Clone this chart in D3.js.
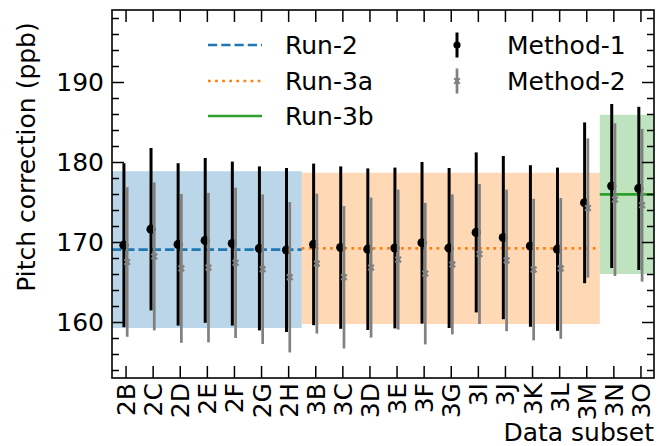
<!DOCTYPE html>
<html lang="en">
<head>
<meta charset="UTF-8">
<title>Pitch correction</title>
<style>
  body { margin: 0; background: #fff; }
  svg text { font-family: "DejaVu Sans", sans-serif; }
</style>
</head>
<body>
<svg width="660" height="446"></svg>
<script src="https://d3js.org/d3.v7.min.js"></script>
<script>
// data subsets
var subsets = ["2B","2C","2D","2E","2F","2G","2H","3B","3C","3D","3E","3F","3G","3I","3J","3K","3L","3M","3N","3O"];

// Method-1 (black) values and errors
var m1Values = [169.6,171.6,169.7,170.2,169.8,169.2,169.0,169.7,169.3,169.1,169.25,169.9,169.25,171.2,170.55,169.5,169.1,174.9,177.0,176.7];
var m1Errors = [10.25,10.15,10.15,10.3,10.25,10.25,10.25,10.1,10.15,10.1,10.05,10.1,10.0,10.0,10.2,10.1,10.2,10.05,10.25,10.2];

// Method-2 (grey) values and errors
var m2Values = [167.5,168.2,166.7,166.8,167.4,166.6,165.6,167.3,165.6,166.8,167.8,166.05,167.2,168.5,167.7,166.55,166.7,174.25,175.3,174.6];
var m2Errors = [9.35,9.25,9.3,9.35,9.4,9.35,9.4,8.75,8.9,8.75,8.75,8.85,8.75,8.75,8.85,8.85,8.8,8.7,9.55,9.55];

// run averages: name, x range (subset index), mean, band half width
var runNames = ["Run-2","Run-3a","Run-3b"];
var runStart = [-0.5, 6.5, 17.5];
var runEnd   = [6.5, 17.5, 19.5];
var runMeans = [169.05, 169.2, 175.95];
var runBands = [9.8, 9.45, 9.95];

var runColors = ["#1f77b4","#ff7f0e","#2ca02c"];
var runDash = ["9.25,4", "2.7,4.4", null];

var yMajor = [160,170,180,190];
var yMinor = d3.range(154, 199, 2).filter(function(v){ return v % 10 !== 0; });

var svg = d3.select("svg");
var pLeft = 112, pRight = 654, pTop = 10, pBottom = 378;

var x = d3.scaleLinear().domain([-0.5, 19.5]).range([pLeft, pRight]);
var y = d3.scaleLinear().domain([153, 199]).range([pBottom, pTop]);

svg.append("clipPath").attr("id","plotclip")
  .append("rect").attr("x",pLeft).attr("y",pTop).attr("width",pRight-pLeft).attr("height",pBottom-pTop);

var plot = svg.append("g").attr("clip-path","url(#plotclip)");

// bands
plot.selectAll("rect.band")
  .data(d3.range(runNames.length))
  .enter().append("rect")
  .attr("class","band")
  .attr("x", function(i){ return x(runStart[i]); })
  .attr("width", function(i){ return x(runEnd[i]) - x(runStart[i]); })
  .attr("y", function(i){ return y(runMeans[i] + runBands[i]); })
  .attr("height", function(i){ return y(runMeans[i] - runBands[i]) - y(runMeans[i] + runBands[i]); })
  .attr("fill", function(i){ return runColors[i]; })
  .attr("fill-opacity", 0.3);

// mean lines
plot.selectAll("line.mean")
  .data(d3.range(runNames.length))
  .enter().append("line")
  .attr("x1", function(i){ return x(runStart[i]); })
  .attr("x2", function(i){ return x(runEnd[i]); })
  .attr("y1", function(i){ return y(runMeans[i]); })
  .attr("y2", function(i){ return y(runMeans[i]); })
  .attr("stroke", function(i){ return runColors[i]; })
  .attr("stroke-width", 2.7)
  .attr("stroke-dasharray", function(i){ return runDash[i]; });

// Method-1
var off = 0.06;
var g1 = plot.append("g");
g1.selectAll("line")
  .data(subsets).enter().append("line")
  .attr("x1", function(d,i){ return x(i-off); })
  .attr("x2", function(d,i){ return x(i-off); })
  .attr("y1", function(d,i){ return y(m1Values[i]-m1Errors[i]); })
  .attr("y2", function(d,i){ return y(m1Values[i]+m1Errors[i]); })
  .attr("stroke","#000").attr("stroke-width",3);
g1.selectAll("circle")
  .data(subsets).enter().append("circle")
  .attr("cx", function(d,i){ return x(i-off); })
  .attr("cy", function(d,i){ return y(m1Values[i]); })
  .attr("r", 4.6).attr("fill","#000");

// Method-2
var g2 = plot.append("g");
g2.selectAll("line")
  .data(subsets).enter().append("line")
  .attr("x1", function(d,i){ return x(i+off); })
  .attr("x2", function(d,i){ return x(i+off); })
  .attr("y1", function(d,i){ return y(m2Values[i]-m2Errors[i]); })
  .attr("y2", function(d,i){ return y(m2Values[i]+m2Errors[i]); })
  .attr("stroke","#808080").attr("stroke-width",2.7);
function xMark(sel, cx, cy){
  sel.append("path")
    .attr("d", "M"+(cx-2.8)+","+(cy-2.8)+"L"+(cx+2.8)+","+(cy+2.8)+"M"+(cx-2.8)+","+(cy+2.8)+"L"+(cx+2.8)+","+(cy-2.8))
    .attr("stroke","#808080").attr("stroke-width",2.2).attr("fill","none");
}
subsets.forEach(function(d,i){ xMark(g2, x(i+off), y(m2Values[i])); });

// axes (ticks pointing inward)
function styleAxis(g){
  g.select(".domain").remove();
  g.selectAll(".tick line").attr("stroke","#000").attr("stroke-width",1.5);
  g.selectAll(".tick text").attr("fill","#000").style("font-size","25px");
}
svg.append("g").attr("transform","translate("+pLeft+",0)")
  .call(d3.axisLeft(y).tickValues(yMajor).tickSize(-12).tickPadding(8)).call(styleAxis);
svg.append("g").attr("transform","translate("+pLeft+",0)")
  .call(d3.axisLeft(y).tickValues(yMinor).tickSize(-7).tickFormat("")).call(styleAxis);
svg.append("g").attr("transform","translate("+pRight+",0)")
  .call(d3.axisRight(y).tickValues(yMajor).tickSize(-12).tickFormat("")).call(styleAxis);
svg.append("g").attr("transform","translate("+pRight+",0)")
  .call(d3.axisRight(y).tickValues(yMinor).tickSize(-7).tickFormat("")).call(styleAxis);

var xBottom = svg.append("g").attr("transform","translate(0,"+pBottom+")")
  .call(d3.axisBottom(x).tickValues(d3.range(subsets.length)).tickSize(-12)
    .tickFormat(function(i){ return subsets[i]; }))
  .call(styleAxis);
xBottom.selectAll(".tick text")
  .attr("transform","rotate(-90)")
  .attr("x",-5).attr("y",0).attr("dy","0.36em")
  .style("text-anchor","end");
svg.append("g").attr("transform","translate(0,"+pTop+")")
  .call(d3.axisTop(x).tickValues(d3.range(subsets.length)).tickSize(-12).tickFormat(""))
  .call(styleAxis);

// frame
svg.append("rect").attr("x",pLeft).attr("y",pTop)
  .attr("width",pRight-pLeft).attr("height",pBottom-pTop)
  .attr("fill","none").attr("stroke","#000").attr("stroke-width",1.6);

// axis labels
svg.append("text")
  .attr("transform","translate(35,157) rotate(-90)")
  .attr("text-anchor","middle")
  .style("font-size","25px")
  .text("Pitch correction (ppb)");
svg.append("text")
  .attr("x", pRight).attr("y", 441)
  .attr("text-anchor","end")
  .style("font-size","25px")
  .text("Data subset");

// legend
var legend = svg.append("g");
var rowY = [45, 81, 116];
runNames.forEach(function(name, i){
  legend.append("line")
    .attr("x1",208).attr("x2",262).attr("y1",rowY[i]).attr("y2",rowY[i])
    .attr("stroke",runColors[i]).attr("stroke-width",2.7)
    .attr("stroke-dasharray",runDash[i]);
  legend.append("text").attr("x",285).attr("y",rowY[i]).attr("dy","0.36em")
    .style("font-size","25px").text(name);
});
legend.append("line").attr("x1",457).attr("x2",457).attr("y1",rowY[0]-12.5).attr("y2",rowY[0]+12.5)
  .attr("stroke","#000").attr("stroke-width",3);
legend.append("circle").attr("cx",457).attr("cy",rowY[0]).attr("r",3.6).attr("fill","#000");
legend.append("text").attr("x",507).attr("y",rowY[0]).attr("dy","0.36em")
  .style("font-size","25px").text("Method-1");
legend.append("line").attr("x1",457).attr("x2",457).attr("y1",rowY[1]-12.5).attr("y2",rowY[1]+12.5)
  .attr("stroke","#808080").attr("stroke-width",2.7);
xMark(legend, 457, rowY[1]);
legend.append("text").attr("x",507).attr("y",rowY[1]).attr("dy","0.36em")
  .style("font-size","25px").text("Method-2");
</script>
</body>
</html>
